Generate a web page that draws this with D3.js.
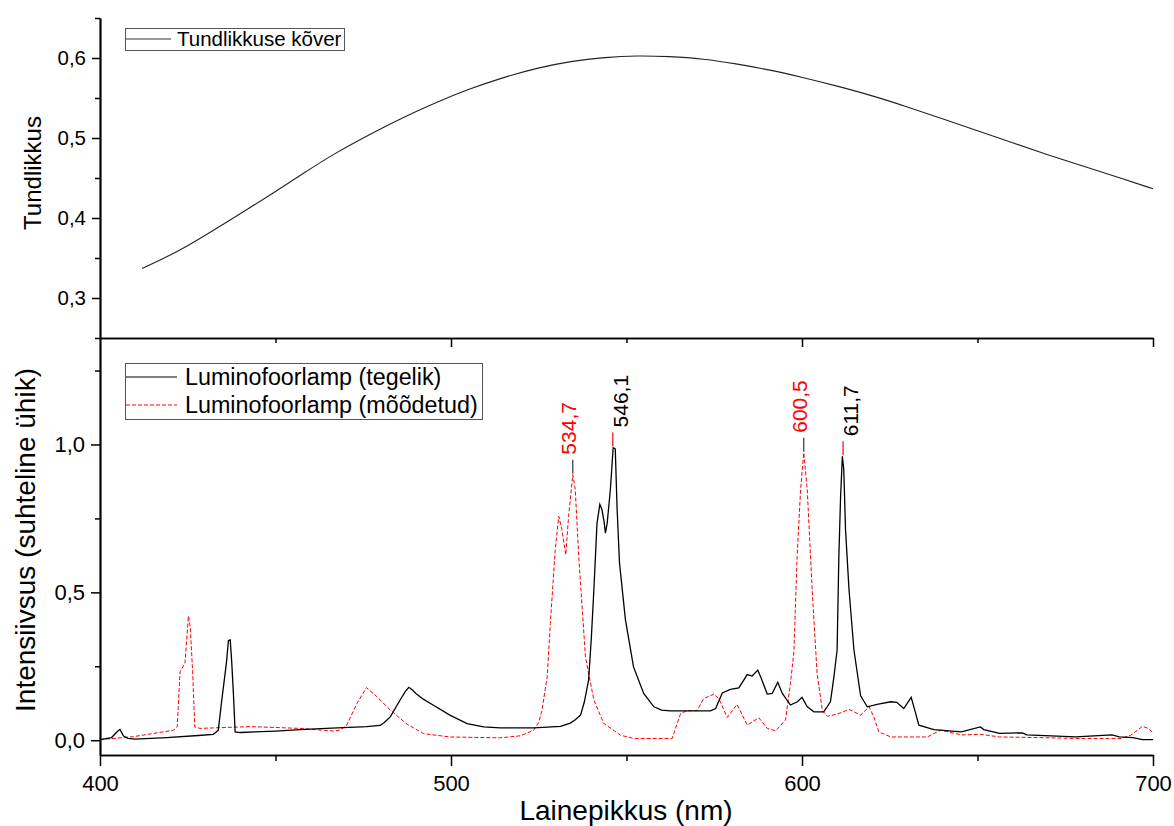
<!DOCTYPE html>
<html>
<head>
<meta charset="utf-8">
<script src="https://cdn.jsdelivr.net/npm/d3@7"></script>
<style>
  body { margin: 0; background: #fff; }
  svg { font-family: "Liberation Sans", Arial, sans-serif; }
</style>
</head>
<body>
<div id="chart"></div>
<script>
// sensitivity curve (nm, value)
var sensitivity = [
  [412, 0.337], [420, 0.353], [428, 0.373], [438, 0.400], [450, 0.433],
  [458, 0.456], [466.5, 0.480], [477, 0.505], [486, 0.525], [496, 0.545],
  [505, 0.561], [515, 0.576], [525, 0.588], [534, 0.596], [544, 0.601],
  [553, 0.603], [562, 0.602], [572, 0.599], [581, 0.593], [591, 0.585],
  [600, 0.576], [610, 0.565], [620, 0.553], [630, 0.539], [640, 0.524],
  [650, 0.509], [660, 0.494], [670, 0.479], [680, 0.465], [690, 0.451],
  [700, 0.4365]
];

// lamp spectrum, actual (black)
var actual = [
  [400, 0.002], [403.3, 0.009], [405, 0.03], [405.7, 0.036], [406.7, 0.014],
  [408, 0.006], [410, 0.004], [419, 0.009], [428, 0.016], [432.3, 0.02],
  [433.7, 0.034], [434.7, 0.136], [436, 0.26], [436.6, 0.337], [437.1, 0.339],
  [437.5, 0.27], [438, 0.16], [438.5, 0.028], [440, 0.026], [450, 0.031],
  [457, 0.036], [466, 0.041], [476, 0.046], [479.8, 0.05], [481, 0.06],
  [482.7, 0.079], [485.5, 0.136], [487, 0.165], [488, 0.179], [489, 0.17],
  [490, 0.158], [492.2, 0.138], [495, 0.118], [499.8, 0.084], [504.6, 0.056],
  [509.3, 0.045], [514, 0.042], [523.6, 0.042], [531.2, 0.047], [534, 0.058],
  [535.5, 0.07], [536.9, 0.085], [538, 0.13], [539.2, 0.203], [540, 0.35],
  [540.7, 0.508], [541.6, 0.734], [542.4, 0.797], [543, 0.78], [543.6, 0.74],
  [544, 0.70], [544.5, 0.734], [545.4, 0.847], [546.2, 0.989], [546.8, 0.985],
  [547.3, 0.79], [548, 0.60], [549.7, 0.407], [552, 0.248], [554.9, 0.158],
  [557.8, 0.113], [560, 0.102], [562.5, 0.099], [573.9, 0.099], [575.4, 0.107],
  [577.3, 0.16], [579.6, 0.172], [582, 0.177], [584.4, 0.222], [585.8, 0.217],
  [587.4, 0.237], [588.2, 0.215], [590.1, 0.156], [591.5, 0.158], [593.1, 0.196],
  [594.4, 0.158], [596.7, 0.119], [598.7, 0.13], [600, 0.145], [601.5, 0.113],
  [603.4, 0.096], [606.2, 0.096], [608.1, 0.13], [609.1, 0.215], [610, 0.305],
  [610.5, 0.621], [611, 0.825], [611.5, 0.96], [611.9, 0.915], [612.4, 0.712],
  [613.4, 0.508], [614.8, 0.305], [616.7, 0.15], [618.6, 0.113], [621.4, 0.121],
  [625.3, 0.13], [627, 0.128], [629, 0.107], [631.1, 0.145], [632.4, 0.09],
  [633.3, 0.051], [637.6, 0.036], [645.4, 0.028], [650.8, 0.045], [651.8, 0.036],
  [656.3, 0.023], [662.8, 0.025], [664, 0.018], [678, 0.011], [688.3, 0.018],
  [690.4, 0.011], [694.3, 0.009], [697, 0.002], [700, 0.002]
];

// lamp spectrum, measured (red dashed)
var measured = [
  [400, 0.002], [409.5, 0.012], [421, 0.034], [422, 0.045], [422.8, 0.231],
  [424.2, 0.26], [425.2, 0.42], [425.7, 0.384], [426.4, 0.231], [427, 0.045],
  [428.5, 0.04], [442.8, 0.046], [457, 0.04], [466.5, 0.031], [468.4, 0.034],
  [470.3, 0.051], [473.2, 0.124], [475.9, 0.178], [478.9, 0.147], [482.7, 0.102],
  [487.5, 0.054], [492.2, 0.022], [499.8, 0.011], [514, 0.008], [519.8, 0.015],
  [523.6, 0.034], [525, 0.06], [525.9, 0.10], [527.4, 0.214], [528.3, 0.395],
  [529.7, 0.644], [530.7, 0.757], [531.6, 0.712], [532.7, 0.627], [533.5, 0.757],
  [534.7, 0.898], [535.4, 0.847], [536.4, 0.621], [538.3, 0.282], [540.7, 0.136],
  [543.5, 0.057], [548.3, 0.017], [552, 0.006], [563, 0.006], [565.4, 0.09],
  [567.3, 0.10], [570.1, 0.10], [572, 0.141], [574.9, 0.156], [576.3, 0.141],
  [578.7, 0.077], [581.5, 0.121], [584.4, 0.051], [587.7, 0.076], [590.1, 0.04],
  [592.5, 0.032], [595.3, 0.068], [596.7, 0.192], [597.7, 0.30], [598.6, 0.621],
  [599.6, 0.847], [600.5, 0.972], [601.5, 0.847], [602.9, 0.508], [604.3, 0.226],
  [605.8, 0.10], [607.2, 0.081], [610, 0.088], [613.4, 0.104], [616.7, 0.085],
  [619.1, 0.113], [620.5, 0.078], [621.9, 0.028], [625.3, 0.011], [635.7, 0.011],
  [639.5, 0.034], [645.4, 0.018], [650.8, 0.02], [656.3, 0.011], [667.2, 0.009],
  [678, 0.006], [691, 0.006], [693.7, 0.017], [697, 0.047], [698.6, 0.04],
  [700, 0.025]
];

// peak annotations
var peaks = [
  { nm: 534.7, value: 0.898, text: "534,7", series: "measured" },
  { nm: 546.1, value: 0.99,  text: "546,1", series: "actual" },
  { nm: 600.5, value: 0.972, text: "600,5", series: "measured" },
  { nm: 611.7, value: 0.96,  text: "611,7", series: "actual" }
];

var xMajor = [400, 500, 600, 700];
var xMinor = [450, 550, 650];
var topMajor = [0.3, 0.4, 0.5, 0.6];
var topMinor = [0.25, 0.35, 0.45, 0.55, 0.65];
var botMajor = [0, 0.5, 1.0];
var botMinor = [0.25, 0.75, 1.25];

var topLegend = ["Tundlikkuse kõver"];
var botLegend = ["Luminofoorlamp (tegelik)", "Luminofoorlamp (mõõdetud)"];

var w = 1174, h = 826;
var comma = d3.formatLocale({ decimal: ",", thousands: " ", grouping: [3], currency: ["", ""] });
var f1 = comma.format(".1f");

var x    = d3.scaleLinear().domain([400, 700]).range([100, 1153]);
var yTop = d3.scaleLinear().domain([0.25, 0.65]).range([338, 18]);
var yBot = d3.scaleLinear().domain([-0.05, 1.36]).range([755, 338]);

var svg = d3.select("#chart").append("svg")
    .attr("width", w)
    .attr("height", h);

function styleAxis(g, fs) {
  g.selectAll("path.domain").attr("stroke", "#000").attr("stroke-width", 1.7);
  g.selectAll(".tick line").attr("stroke", "#000").attr("stroke-width", 1.5);
  g.selectAll(".tick text").attr("fill", "#000")
    .style("font-size", fs + "px")
    .style("font-family", "'Liberation Sans', Arial, sans-serif");
}

// top panel: left axis
svg.append("g").attr("transform", "translate(100,0)")
   .call(d3.axisLeft(yTop).tickValues(topMinor).tickSize(5).tickSizeOuter(0).tickFormat(""))
   .call(styleAxis, 20);
svg.append("g").attr("transform", "translate(100,0)")
   .call(d3.axisLeft(yTop).tickValues(topMajor).tickSize(8).tickSizeOuter(0).tickPadding(6).tickFormat(f1))
   .call(styleAxis, 20.5);

// bottom panel: left axis
svg.append("g").attr("transform", "translate(100,0)")
   .call(d3.axisLeft(yBot).tickValues(botMinor).tickSize(5).tickSizeOuter(0).tickFormat(""))
   .call(styleAxis, 22);
svg.append("g").attr("transform", "translate(100,0)")
   .call(d3.axisLeft(yBot).tickValues(botMajor).tickSize(9).tickSizeOuter(0).tickPadding(6).tickFormat(f1))
   .call(styleAxis, 22);

// shared separator line with inward ticks
svg.append("g").attr("transform", "translate(0,338)")
   .call(d3.axisBottom(x).tickValues(xMinor).tickSize(5).tickSizeOuter(0).tickFormat(""))
   .call(styleAxis, 22);
svg.append("g").attr("transform", "translate(0,338)")
   .call(d3.axisBottom(x).tickValues(xMajor.slice(1)).tickSize(9).tickSizeOuter(0).tickFormat(""))
   .call(styleAxis, 22);

// bottom x axis
svg.append("g").attr("transform", "translate(0,755)")
   .call(d3.axisBottom(x).tickValues(xMinor).tickSize(6).tickSizeOuter(0).tickFormat(""))
   .call(styleAxis, 22);
svg.append("g").attr("transform", "translate(0,755)")
   .call(d3.axisBottom(x).tickValues(xMajor).tickSize(11).tickSizeOuter(0).tickPadding(9).tickFormat(d3.format("d")))
   .call(styleAxis, 22);

// axis titles
svg.append("text")
   .attr("transform", "translate(41,173) rotate(-90)")
   .attr("text-anchor", "middle")
   .style("font-size", "24px")
   .text("Tundlikkus");
svg.append("text")
   .attr("transform", "translate(35,540) rotate(-90)")
   .attr("text-anchor", "middle")
   .style("font-size", "28px")
   .text("Intensiivsus (suhteline ühik)");
svg.append("text")
   .attr("x", 626).attr("y", 820)
   .attr("text-anchor", "middle")
   .style("font-size", "28px")
   .text("Lainepikkus (nm)");

// curves
var line = function(ys, curve) {
  return d3.line().x(function(d) { return x(d[0]); })
                  .y(function(d) { return ys(d[1]); })
                  .curve(curve || d3.curveLinear);
};

svg.append("path").datum(sensitivity)
   .attr("d", line(yTop, d3.curveBasis))
   .attr("fill", "none").attr("stroke", "#222").attr("stroke-width", 1.1);

svg.append("path").datum(measured)
   .attr("d", line(yBot))
   .attr("fill", "none").attr("stroke", "#ff0000").attr("stroke-width", 1)
   .attr("stroke-dasharray", "4,2");

svg.append("path").datum(actual)
   .attr("d", line(yBot))
   .attr("fill", "none").attr("stroke", "#000").attr("stroke-width", 1.3);

// peak labels
var pk = svg.selectAll("g.peak").data(peaks).enter().append("g").attr("class", "peak");
pk.append("line")
  .attr("x1", function(d) { return x(d.nm); })
  .attr("x2", function(d) { return x(d.nm); })
  .attr("y1", function(d) { return yBot(d.value) - 1; })
  .attr("y2", function(d) { return yBot(d.value) - 15; })
  .attr("stroke", function(d) { return d.series === "measured" ? "#333" : "#ff0000"; })
  .attr("stroke-width", 1.2);
pk.append("text")
  .attr("transform", function(d) {
    var bx = x(d.nm) + (d.series === "measured" ? 3 : 15);
    return "translate(" + bx + "," + (yBot(d.value) - 20) + ") rotate(-90)";
  })
  .attr("fill", function(d) { return d.series === "measured" ? "#ff0000" : "#000"; })
  .style("font-size", "21px")
  .text(function(d) { return d.text; });

// legends
var lg1 = svg.append("g");
lg1.append("rect").attr("x", 125.5).attr("y", 28.5).attr("width", 219).attr("height", 22)
   .attr("fill", "#fff").attr("stroke", "#555").attr("stroke-width", 1);
lg1.selectAll("text").data(topLegend).enter().append("text")
   .attr("x", 177).attr("y", 46).style("font-size", "20.5px").text(function(d) { return d; });
lg1.append("line").attr("x1", 126).attr("x2", 171).attr("y1", 39).attr("y2", 39)
   .attr("stroke", "#333").attr("stroke-width", 1.1);

var lg2 = svg.append("g");
lg2.append("rect").attr("x", 125.5).attr("y", 363.5).attr("width", 357).attr("height", 56)
   .attr("fill", "#fff").attr("stroke", "#555").attr("stroke-width", 1);
lg2.selectAll("text").data(botLegend).enter().append("text")
   .attr("x", 185).attr("y", function(d, i) { return 385 + i * 28; })
   .style("font-size", "23.3px").text(function(d) { return d; });
lg2.append("line").attr("x1", 126).attr("x2", 177).attr("y1", 377).attr("y2", 377)
   .attr("stroke", "#000").attr("stroke-width", 1.2);
lg2.append("line").attr("x1", 126).attr("x2", 177).attr("y1", 405).attr("y2", 405)
   .attr("stroke", "#ff0000").attr("stroke-width", 1).attr("stroke-dasharray", "4,2");
</script>
</body>
</html>
